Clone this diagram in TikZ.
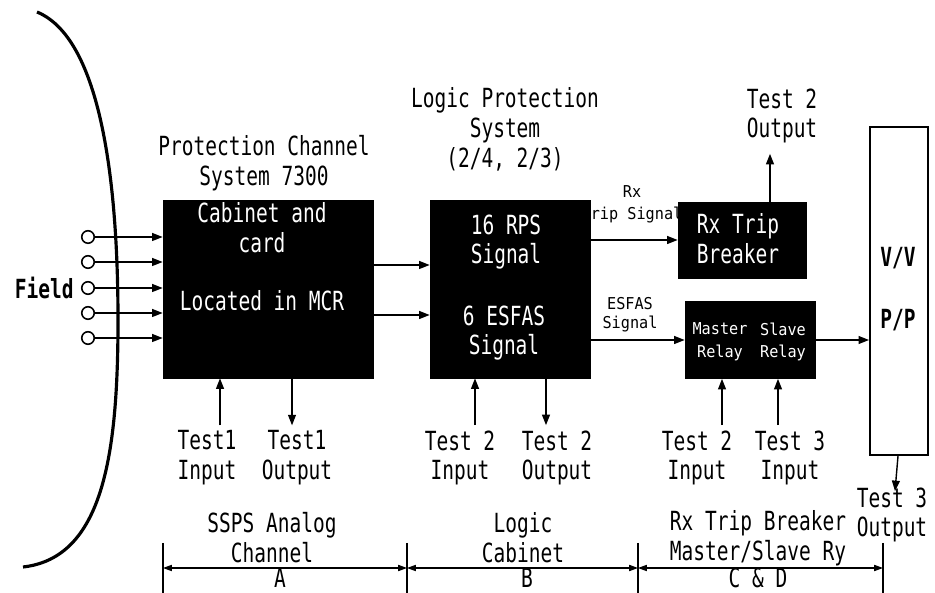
\documentclass[tikz,border=0pt]{standalone}
\usepackage{fontspec}
\usepackage{tikz}
\usetikzlibrary{arrows.meta, positioning, calc}
\newfontfamily\diagfont[FakeStretch=0.74]{DejaVu Sans Mono}
\newfontfamily\smalldiagfont[FakeStretch=0.93]{DejaVu Sans Mono}
\tikzset{
  lbl/.style={font=\diagfont\fontsize{15}{17}\selectfont, align=center, inner sep=0pt},
  sml/.style={font=\smalldiagfont\fontsize{9.3}{13}\selectfont, align=center, inner sep=0pt},
  blk box/.style={rectangle, draw=black, fill=black, inner sep=0pt},
  in text/.style={lbl, text=white},
  in small/.style={sml, text=white},
  open box/.style={rectangle, draw=black, fill=white, line width=1.1pt, inner sep=0pt},
  term/.style={circle, draw=black, line width=0.9pt, fill=white, minimum size=2.5mm, inner sep=0pt},
  arr/.style={-{Triangle[length=6pt, width=4.5pt]}, line width=0.8pt},
  dim/.style={{Triangle[length=5pt, width=3.5pt]}-{Triangle[length=5pt, width=3.5pt]}, line width=0.6pt},
  tick/.style={line width=0.8pt},
}
\begin{document}
\begin{tikzpicture}[x=0.2mm, y=-0.2mm]
  \useasboundingbox (0,0) rectangle (935,593);

  % Field boundary
  \draw[line width=1.8pt] (37,12) .. controls (105,40) and (118,200) .. (118,320)
    .. controls (118,455) and (103,558) .. (23,567);

  % Blocks
  \node[blk box, minimum width=4.2cm, minimum height=3.56cm] (chan) at (268,289) {};
  \node[blk box, minimum width=3.2cm, minimum height=3.56cm] (lps) at (510,289) {};
  \node[blk box, minimum width=2.56cm, minimum height=1.52cm] (rtb) at (742,240) {};
  \node[blk box, minimum width=2.6cm, minimum height=1.54cm] (msr) at (750,340) {};
  \node[open box, minimum width=1.16cm, minimum height=6.56cm] (vvpp) at (899,291) {};

  % Block titles
  \node[lbl] (chanTitle) at (264,163) {Protection Channel\\System 7300};
  \node[lbl] (lpsTitle) at (505,129) {Logic Protection\\System\\(2/4, 2/3)};

  % Texts inside blocks
  \node[in text] (chanTxtA) at (262,228) {Cabinet and\\card};
  \node[in text] (chanTxtB) at (262,301) {Located in MCR};
  \node[in text] (rpsTxt) at (506,242) {16 RPS\\Signal};
  \node[in text] (esfasTxt) at (504,333) {6 ESFAS\\Signal};
  \node[in text] (rtbTxt) at (738,239) {Rx Trip\\Breaker};
  \node[in small] (masterTxt) at (720,342) {Master\\Relay};
  \node[in small] (slaveTxt) at (783,342) {Slave\\Relay};
  \node[lbl, font=\diagfont\bfseries\fontsize{15}{17}\selectfont] (vvTxt) at (898,258) {V/V};
  \node[lbl, font=\diagfont\bfseries\fontsize{15}{17}\selectfont] (ppTxt) at (898,320) {P/P};

  % Field inputs
  \node[lbl, font=\diagfont\bfseries\fontsize{15}{17}\selectfont, anchor=east] (field) at (74,288) {Field};
  \foreach \i/\y in {1/237, 2/262, 3/288, 4/313, 5/338} {
    \node[term] (f\i) at (88,\y) {};
    \draw[arr] (f\i) -- (f\i -| chan.west);
  }

  % Signal flow
  \draw[arr] ([yshift=4.8mm]chan.east) coordinate (ab1) -- (ab1 -| lps.west);
  \draw[arr] ([yshift=-5.2mm]chan.east) coordinate (ab2) -- (ab2 -| lps.west);
  \draw[arr] (lps.east |- rtb) -- (rtb.west);
  \draw[arr] (lps.east |- msr) -- (msr.west);
  \draw[arr] (msr.east) -- (msr.east -| vvpp.west);
  \node[sml, font=\smalldiagfont\fontsize{9.3}{12.5}\selectfont] (rxSig) at (632,204) {Rx\\Trip Signal};
  \node[sml, font=\smalldiagfont\fontsize{9.3}{11}\selectfont] (esfasSig) at (630,315) {ESFAS\\Signal};

  % Test labels
  \node[lbl] (t2outTop) at (782,116) {Test 2\\Output};
  \draw[arr, shorten >=2mm] ([xshift=5.6mm]rtb.north) coordinate (q0) -- (q0 |- t2outTop.south);

  \node[lbl] (t1in) at (207,458) {Test1\\Input};
  \node[lbl] (t1out) at (297,458) {Test1\\Output};
  \node[lbl] (t2inB) at (460,458) {Test 2\\Input};
  \node[lbl] (t2outB) at (557,458) {Test 2\\Output};
  \node[lbl] (t2inC) at (697,458) {Test 2\\Input};
  \node[lbl] (t3inC) at (790,458) {Test 3\\Input};
  \node[lbl] (t3out) at (892,515) {Test 3\\Output};

  \draw[arr, shorten <=1mm] ([xshift=2.6mm]t1in.north) coordinate (q1) -- (q1 |- chan.south);
  \path ([xshift=-1mm]t1out.north) coordinate (q2);
  \draw[arr, shorten >=1mm] (q2 |- chan.south) -- (q2);
  \draw[arr, shorten <=1mm] ([xshift=3mm]t2inB.north) coordinate (q3) -- (q3 |- lps.south);
  \path ([xshift=-2.2mm]t2outB.north) coordinate (q4);
  \draw[arr, shorten >=1mm] (q4 |- lps.south) -- (q4);
  \draw[arr, shorten <=1mm] ([xshift=5mm]t2inC.north) coordinate (q5) -- (q5 |- msr.south);
  \draw[arr, shorten <=1mm] ([xshift=-2.4mm]t3inC.north) coordinate (q6) -- (q6 |- msr.south);
  \draw[arr] ([xshift=-0.2mm]vvpp.south) -- ([xshift=0.6mm, yshift=-0.8mm]t3out.north);

  % Sections
  \coordinate (dA) at (163,568);
  \coordinate (dB) at (407,568);
  \coordinate (dC) at (638,568);
  \coordinate (dD) at (883,568);
  \foreach \d in {dA, dB, dC, dD}
    \draw[tick] ([yshift=5mm]\d) -- ([yshift=-5mm]\d);
  \draw[dim] (dA) -- (dB);
  \draw[dim] (dB) -- (dC);
  \draw[dim] (dC) -- (dD);

  \node[lbl] (secA) at (272,538) {SSPS Analog\\Channel};
  \node[lbl] (secAId) at (280,578) {A};
  \node[lbl] (secB) at (523,538) {Logic\\Cabinet};
  \node[lbl] (secBId) at (527,578) {B};
  \node[lbl] (secC) at (758,538) {Rx Trip Breaker\\Master/Slave Ry};
  \node[lbl] (secCId) at (758,578) {C \& D};
\end{tikzpicture}
\end{document}
